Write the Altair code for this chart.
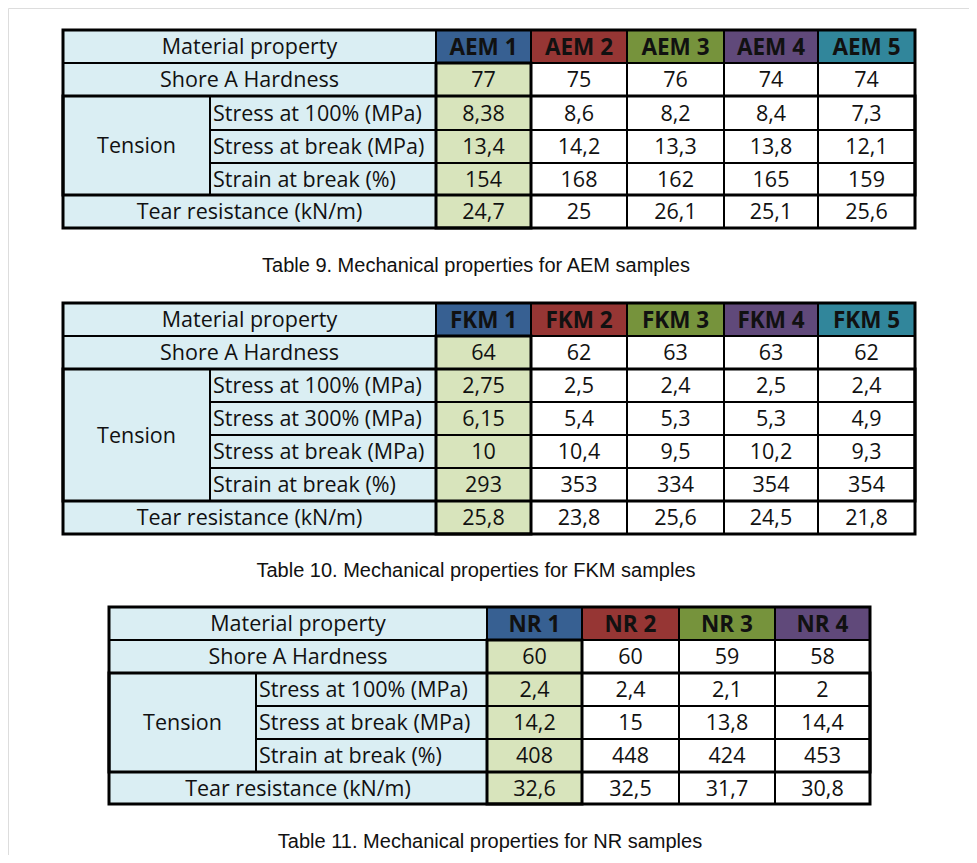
import altair as alt
import pandas as pd

# ---------------- data ----------------
header_label = "Material property"
hardness_label = "Shore A Hardness"
group_label = "Tension"
tear_label = "Tear resistance (kN/m)"

aem_samples = ["AEM 1", "AEM 2", "AEM 3", "AEM 4", "AEM 5"]
aem_props = ["Stress at 100% (MPa)", "Stress at break (MPa)", "Strain at break (%)"]
aem_hardness = [77, 75, 76, 74, 74]
aem_stress100 = [8.38, 8.6, 8.2, 8.4, 7.3]
aem_stress_break = [13.4, 14.2, 13.3, 13.8, 12.1]
aem_strain_break = [154, 168, 162, 165, 159]
aem_tear = [24.7, 25, 26.1, 25.1, 25.6]

fkm_samples = ["FKM 1", "FKM 2", "FKM 3", "FKM 4", "FKM 5"]
fkm_props = ["Stress at 100% (MPa)", "Stress at 300% (MPa)", "Stress at break (MPa)", "Strain at break (%)"]
fkm_hardness = [64, 62, 63, 63, 62]
fkm_stress100 = [2.75, 2.5, 2.4, 2.5, 2.4]
fkm_stress300 = [6.15, 5.4, 5.3, 5.3, 4.9]
fkm_stress_break = [10, 10.4, 9.5, 10.2, 9.3]
fkm_strain_break = [293, 353, 334, 354, 354]
fkm_tear = [25.8, 23.8, 25.6, 24.5, 21.8]

nr_samples = ["NR 1", "NR 2", "NR 3", "NR 4"]
nr_props = ["Stress at 100% (MPa)", "Stress at break (MPa)", "Strain at break (%)"]
nr_hardness = [60, 60, 59, 58]
nr_stress100 = [2.4, 2.4, 2.1, 2]
nr_stress_break = [14.2, 15, 13.8, 14.4]
nr_strain_break = [408, 448, 424, 453]
nr_tear = [32.6, 32.5, 31.7, 30.8]

captions = [
    "Table 9. Mechanical properties for AEM samples",
    "Table 10. Mechanical properties for FKM samples",
    "Table 11. Mechanical properties for NR samples",
]

# ---------------- layout / style ----------------
sample_colors = ["#376092", "#963634", "#76933C", "#60497A", "#31869B"]
label_bg = "#DAEEF3"
first_bg = "#D8E4BC"
FONT = "Open Sans"
FS = 21.5
FS_BOLD = 22.5

layouts = [
    dict(xe=[63, 210, 436, 531, 627, 724, 818, 915], ye=[30, 63, 96, 130, 163, 195, 228], cap=(476, 266)),
    dict(xe=[63, 210, 436, 531, 627, 724, 818, 915], ye=[303, 336, 369, 402, 435, 468, 501, 534], cap=(476, 571)),
    dict(xe=[109, 256, 487, 582, 679, 775, 870], ye=[607, 640, 673, 706, 739, 772, 804], cap=(490, 842)),
]

tables = [
    (aem_samples, aem_props, aem_hardness, [aem_stress100, aem_stress_break, aem_strain_break], aem_tear),
    (fkm_samples, fkm_props, fkm_hardness, [fkm_stress100, fkm_stress300, fkm_stress_break, fkm_strain_break], fkm_tear),
    (nr_samples, nr_props, nr_hardness, [nr_stress100, nr_stress_break, nr_strain_break], nr_tear),
]


def fmt(v):
    return str(v).replace(".", ",")


cells, texts, groups, caps = [], [], [], []
for (samples, props, hard, tension, tear), lay, cap in zip(tables, layouts, captions):
    xe, ye = lay["xe"], lay["ye"]
    n = len(samples)
    nrows = len(ye) - 1

    def cell(x1, x2, y1, y2, fill):
        cells.append(dict(x=x1, x2=x2, y=y1, y2=y2, fill=fill))

    def txt(x, y, t, kind):
        texts.append(dict(x=x, y=y, t=t, kind=kind))

    # label cells
    cell(xe[0], xe[2], ye[0], ye[1], label_bg)
    txt((xe[0] + xe[2]) / 2, (ye[0] + ye[1]) / 2, header_label, "center")
    cell(xe[0], xe[2], ye[1], ye[2], label_bg)
    txt((xe[0] + xe[2]) / 2, (ye[1] + ye[2]) / 2, hardness_label, "center")
    cell(xe[0], xe[1], ye[2], ye[nrows - 1], label_bg)
    txt((xe[0] + xe[1]) / 2, (ye[2] + ye[nrows - 1]) / 2, group_label, "center")
    for i, p in enumerate(props):
        cell(xe[1], xe[2], ye[2 + i], ye[3 + i], label_bg)
        txt(xe[1] + 3, (ye[2 + i] + ye[3 + i]) / 2, p, "left")
    cell(xe[0], xe[2], ye[nrows - 1], ye[nrows], label_bg)
    txt((xe[0] + xe[2]) / 2, (ye[nrows - 1] + ye[nrows]) / 2, tear_label, "center")

    # data columns
    for j, s in enumerate(samples):
        x1, x2 = xe[2 + j], xe[3 + j]
        cx = (x1 + x2) / 2
        cell(x1, x2, ye[0], ye[1], sample_colors[j])
        txt(cx, (ye[0] + ye[1]) / 2, s, "bold")
        col_vals = [hard[j]] + [series[j] for series in tension] + [tear[j]]
        for r, v in enumerate(col_vals):
            cell(x1, x2, ye[1 + r], ye[2 + r], first_bg if j == 0 else "#FFFFFF")
            txt(cx, (ye[1 + r] + ye[2 + r]) / 2, fmt(v), "center")

    # thicker group outlines
    groups.append(dict(x=xe[0], x2=xe[-1], y=ye[0], y2=ye[-1]))
    groups.append(dict(x=xe[0], x2=xe[-1], y=ye[2], y2=ye[nrows - 1]))
    groups.append(dict(x=xe[2], x2=xe[3], y=ye[1], y2=ye[-1]))

    caps.append(dict(x=lay["cap"][0], y=lay["cap"][1], t=cap))

cells_df = pd.DataFrame(cells)
texts_df = pd.DataFrame(texts)
groups_df = pd.DataFrame(groups)
caps_df = pd.DataFrame(caps)

W, H = 961, 847
xs = alt.Scale(domain=[8, 8 + W], nice=False, zero=False)
ys = alt.Scale(domain=[8, 8 + H], nice=False, zero=False, reverse=True)

X = lambda f: alt.X(f, type="quantitative", scale=xs, axis=None)
Y = lambda f: alt.Y(f, type="quantitative", scale=ys, axis=None)

rects = alt.Chart(cells_df).mark_rect(stroke="black", strokeWidth=2).encode(
    x=X("x"), x2="x2", y=Y("y"), y2="y2",
    fill=alt.Fill("fill:N", scale=None),
)

outlines = alt.Chart(groups_df).mark_rect(fill=None, fillOpacity=0, stroke="black", strokeWidth=3).encode(
    x=X("x"), x2="x2", y=Y("y"), y2="y2",
)

def text_layer(kind, size, **kw):
    return alt.Chart(texts_df).transform_filter(alt.datum.kind == kind).mark_text(
        font=FONT, fontSize=size, baseline="middle", color="#111111", dy=1.5, **kw
    ).encode(x=X("x"), y=Y("y"), text="t:N")

t_center = text_layer("center", FS, align="center")
t_left = text_layer("left", FS, align="left")
t_bold = text_layer("bold", FS_BOLD, align="center", fontWeight="bold")

cap_layer = alt.Chart(caps_df).mark_text(
    font="Liberation Sans", fontSize=20, baseline="middle", align="center", color="#111111"
).encode(x=X("x"), y=Y("y"), text="t:N")

chart = alt.layer(rects, outlines, t_center, t_left, t_bold, cap_layer).properties(
    width=W, height=H, autosize=alt.AutoSizeParams(type="none"), padding=0
).configure_view(stroke=None).configure(background="white")

chart.save("out.html", embed_options={"renderer": "svg", "actions": False})
